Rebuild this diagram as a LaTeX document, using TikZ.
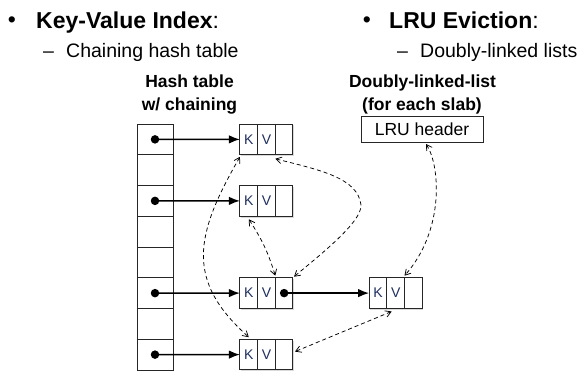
\documentclass[tikz,border=0pt]{standalone}
\usepackage{fontspec}
\setmainfont{Liberation Sans}
\usetikzlibrary{arrows.meta,shadows,positioning}
\definecolor{kvblue}{HTML}{1F2F5F}
\newcommand\kvbox[4]{%
  \node[kvcell, shad] (#1k) at (#2,#3) {K};
  \node[kvcell, shad, right=0pt of #1k] (#1v) {V};
  \node[kvcell, shad, right=0pt of #1v] (#1p) {#4};}
\begin{document}
\begin{tikzpicture}[x=1pt,y=1pt,
  cellbox/.style={draw=black!85, line width=1pt, fill=white, inner sep=0pt, outer sep=0pt},
  htcell/.style={cellbox, minimum width=36pt, minimum height=30.75pt},
  kvcell/.style={cellbox, minimum width=17.67pt, minimum height=30.75pt, font=\fontsize{14}{14}\selectfont, text=kvblue},
  shad/.style={drop shadow={shadow xshift=1.3pt, shadow yshift=-1.3pt, opacity=0.3}},
  dotmark/.style={circle, fill=black, inner sep=0pt, minimum size=8.5pt},
  ptr/.style={line width=1.6pt, -{Latex[length=11pt,width=8.5pt]}},
  dlink/.style={dash pattern=on 4pt off 3pt, line width=0.75pt, {Straight Barb[length=5.5pt,width=6.5pt]}-{Straight Barb[length=5.5pt,width=6.5pt]}},
  txt/.style={inner sep=0pt, anchor=base west},
  big/.style={font=\fontsize{23}{23}\selectfont},
  mid/.style={font=\fontsize{19.5}{19.5}\selectfont},
  lab/.style={inner sep=0pt, anchor=base, font=\bfseries\fontsize{17.5}{17.5}\selectfont}]
\useasboundingbox (0,0) rectangle (581,-372);

% headings
\node[big, inner sep=0pt] (bul1) at (12,-22.5) {•};
\node[txt, big] (t1) at (36,-28.5) {\textbf{Key-Value Index}:};
\node[txt, mid] (s1d) at (43,-57) {–};
\node[txt, mid] (s1) at (66,-57) {Chaining hash table};
\node[big, inner sep=0pt] (bul2) at (367,-22.5) {•};
\node[txt, big] (t2) at (389,-28.5) {\textbf{LRU Eviction}:};
\node[txt, mid] (s2d) at (397,-57) {–};
\node[txt, mid] (s2) at (420,-57) {Doubly-linked lists};

\node[lab] (l1a) at (189.5,-87) {Hash table};
\node[lab] (l1b) at (189.5,-110) {w/ chaining};
\node[lab] (l2a) at (422.5,-87) {Doubly-linked-list};
\node[lab] (l2b) at (422,-110) {(for each slab)};

% hash table
\foreach \i in {1,...,8}
  \node[htcell, shad] (ht\i) at (155, {-124-30.75*(\i-0.5)}) {};

% key-value items
\kvbox{b1}{248.8}{-139.4}{}
\kvbox{b2}{248.8}{-200.9}{}
\kvbox{b3}{248.8}{-293.1}{}
\kvbox{b4}{248.8}{-354.6}{}
\kvbox{b5}{378}{-293.1}{}

\node[cellbox, shad, minimum width=122pt, minimum height=26pt, font=\fontsize{17.5}{17.5}\selectfont] (lru) at (422,-129) {LRU header};

% pointers
\node[dotmark] (d1) at (ht1.center) {};
\node[dotmark] (d3) at (ht3.center) {};
\node[dotmark] (d6) at (ht6.center) {};
\node[dotmark] (d8) at (ht8.center) {};
\node[dotmark] (d9) at (b3p.center) {};
\draw[ptr] (d1.center) -- (b1k.west);
\draw[ptr] (d3.center) -- (b2k.west);
\draw[ptr] (d6.center) -- (b3k.west);
\draw[ptr] (d8.center) -- (b4k.west);
\draw[ptr] (d9.center) -- (b5k.west);

% LRU links
\draw[dlink] ([yshift=-2pt]b1k.south west) .. controls (195,-235) and (185,-280) .. ([yshift=2pt]b4k.north);
\draw[dlink] ([yshift=-3pt]b2k.south) to[bend left=8] ([yshift=2pt]b3v.north east);
\draw[dlink] ([yshift=-4pt]b1v.south east) .. controls (320,-170) and (358,-178) .. (361,-205)
  .. controls (362,-222) and (320,-255) .. ([shift={(1pt,1pt)}]b3p.north east);
\draw[dlink] ([xshift=4pt,yshift=-2pt]lru.south) .. controls (440,-165) and (445,-230) .. ([yshift=2pt]b5v.north east);
\draw[dlink] ([xshift=-4pt,yshift=-3pt]b5v.south) -- ([xshift=2pt,yshift=3pt]b4p.east);
\end{tikzpicture}
\end{document}
